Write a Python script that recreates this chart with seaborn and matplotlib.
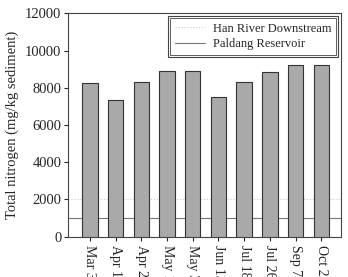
import matplotlib
matplotlib.use("Agg")
import matplotlib.pyplot as plt
import seaborn as sns
import pandas as pd
from matplotlib.patches import Rectangle

dates = ["Mar 30", "Apr 13", "Apr 22", "May 10", "May 31", "Jun 13", "Jul 18", "Jul 26", "Sep 7", "Oct 26"]
total_nitrogen = [8250, 7340, 8330, 8900, 8900, 7480, 8320, 8860, 9200, 9230]
han_river_downstream = 2000
paldang_reservoir = 1000

sns.set_theme(style="ticks")
plt.rcParams['font.family'] = ['Liberation Serif', 'DejaVu Serif']

df = pd.DataFrame({"date": dates, "tn": total_nitrogen})

fig = plt.figure(figsize=(3.48, 2.77), dpi=100)
ax = fig.add_axes([0.196, 0.1455, 0.783, 0.8065])

sns.barplot(data=df, x="date", y="tn", color="#a9a9a9", edgecolor="#333333",
            linewidth=0.8, width=0.6, saturation=1, ax=ax, zorder=3)
ax.axhline(han_river_downstream, color="#c8c8c8", linestyle=":", linewidth=0.8,
           label="Han River Downstream", zorder=1)
ax.axhline(paldang_reservoir, color="#777777", linestyle="-", linewidth=0.8,
           label="Paldang Reservoir", zorder=1)

ax.set_xlim(-0.84, 9.75)
ax.set_ylim(0, 12000)
ax.set_yticks(range(0, 12001, 2000))
ax.set_xlabel("")
ax.set_ylabel("Total nitrogen (mg/kg sediment)", fontsize=10.5, labelpad=4)
ax.tick_params(axis="y", labelsize=10.5, direction="out", length=3, width=0.8, pad=2)
ax.tick_params(axis="x", labelsize=10, direction="out", length=3, width=0.8, pad=3)
for lbl in ax.get_xticklabels():
    lbl.set_rotation(270)
    lbl.set_va("top")
    lbl.set_ha("center")
for s in ax.spines.values():
    s.set_visible(True)
    s.set_linewidth(0.8)
    s.set_color("#444444")

leg = ax.legend(loc="upper right", fontsize=9, frameon=True, fancybox=False,
                edgecolor="#444444", framealpha=1, borderpad=0.55, handlelength=2.4,
                handletextpad=0.6, labelspacing=0.3, borderaxespad=0.2)
leg.get_frame().set_linewidth(0.8)

fig.canvas.draw()
bb = leg.get_frame().get_window_extent().transformed(fig.transFigure.inverted())
pad = 2.0 / 348
padv = 2.0 / 277
rect = Rectangle((bb.x0 + pad, bb.y0 + padv), bb.width - 2 * pad, bb.height - 2 * padv,
                 transform=fig.transFigure, fill=False, edgecolor="#444444", linewidth=0.6,
                 zorder=10)
fig.add_artist(rect)

fig.savefig("out.png", dpi=100)
